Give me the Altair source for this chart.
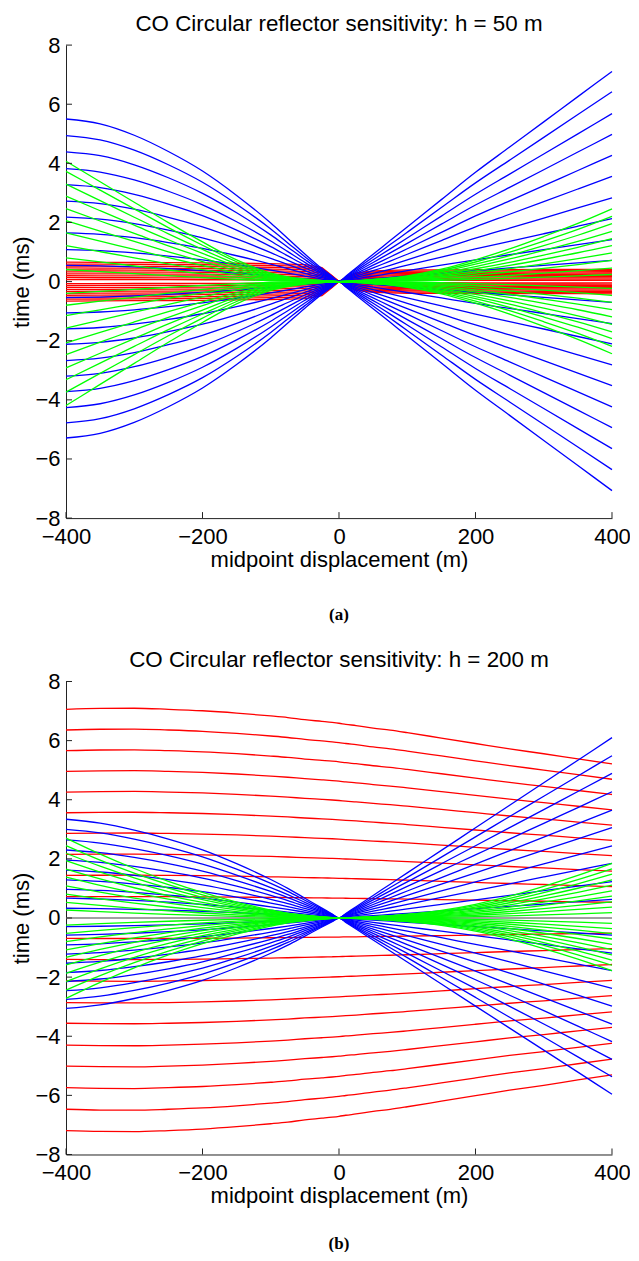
import altair as alt
import pandas as pd

# ---------------- shared x positions (m) ----------------
X_LEFT = [-400, -350, -300, -250, -200, -150, -100, -75, -50, -25, -10, 0]
X_RIGHT = [0, 10, 25, 50, 75, 100, 150, 200, 250, 300, 350, 400]
X_ALL = X_LEFT + X_RIGHT[1:]

# ---------------- panel (a): h = 50 m ----------------
A_BLUE_LEFT_AMP = [5.50, 4.94, 4.39, 3.82, 3.28, 2.72, 2.18, 1.65, 1.08, 0.55,
                   -0.54, -1.06, -1.60, -2.12, -2.67, -3.20, -3.72, -4.26, -4.78, -5.29]
A_BLUE_RIGHT_AMP = [7.11, 6.42, 5.68, 4.98, 4.27, 3.56, 2.83, 2.13, 1.42, 0.72,
                    -0.70, -1.42, -2.11, -2.82, -3.52, -4.24, -4.94, -5.65, -6.36, -7.07]
A_BLUE_LEFT_SHAPE = [1.0, 0.97, 0.9, 0.8, 0.68, 0.53, 0.36, 0.265, 0.17, 0.08, 0.032, 0.0]
A_BLUE_RIGHT_SHAPE = [0.0, 0.026, 0.065, 0.13, 0.195, 0.26, 0.39, 0.52, 0.64, 0.76, 0.88, 1.0]

A_GREEN_LEFT_AMP = [4.07, 3.73, 3.30, 2.89, 2.47, 2.06, 1.65, 1.22, 0.80, 0.41,
                    -0.40, -0.80, -1.15, -1.57, -2.07, -2.47, -2.92, -3.32, -3.74, -4.19]
A_GREEN_RIGHT_AMP = [2.46, 2.21, 1.96, 1.70, 1.45, 1.22, 0.97, 0.72, 0.46, 0.24,
                     -0.23, -0.47, -0.70, -0.95, -1.19, -1.45, -1.70, -1.93, -2.19, -2.44]
A_GREEN_LEFT_SHAPE = [1.0, 0.83, 0.66, 0.49, 0.33, 0.18, 0.07, 0.04, 0.02, 0.008, 0.003, 0.0]
A_GREEN_RIGHT_SHAPE = [0.0, 0.003, 0.01, 0.03, 0.05, 0.08, 0.17, 0.30, 0.45, 0.62, 0.80, 1.0]

A_RED_AMP = [0.66, 0.594, 0.528, 0.462, 0.396, 0.33, 0.264, 0.198, 0.132, 0.066,
             -0.066, -0.132, -0.198, -0.264, -0.33, -0.396, -0.462, -0.528, -0.594, -0.66]
A_RED_SHAPE = [1.0, 0.99, 0.98, 0.97, 0.96, 0.94, 0.92, 0.9, 0.87, 0.72, 0.3, 0.0,
               -0.22, -0.45, -0.55, -0.58, -0.6, -0.6, -0.61, -0.61, -0.62, -0.62, -0.63]

# ---------------- panel (b): h = 200 m ----------------
B_BLUE_LEFT_AMP = [3.34, 3.00, 2.64, 2.30, 1.96, 1.62, 1.29, 0.97, 0.67, 0.33,
                   -0.29, -0.58, -0.91, -1.22, -1.53, -1.85, -2.15, -2.46, -2.75, -3.06]
B_BLUE_RIGHT_AMP = [6.10, 5.49, 4.89, 4.27, 3.65, 3.06, 2.44, 1.85, 1.23, 0.63,
                    -0.58, -1.19, -1.78, -2.38, -2.98, -3.59, -4.18, -4.78, -5.37, -5.96]
B_BLUE_LEFT_SHAPE = [1.0, 0.96, 0.89, 0.8, 0.69, 0.55, 0.39, 0.3, 0.2, 0.1, 0.04, 0.0]
B_BLUE_RIGHT_SHAPE = [0.0, 0.025, 0.0625, 0.125, 0.1875, 0.25, 0.375, 0.5, 0.625, 0.75, 0.875, 1.0]

B_GREEN_LEFT_AMP = [2.70, 2.45, 2.19, 1.94, 1.65, 1.38, 1.09, 0.81, 0.53, 0.27,
                    -0.24, -0.52, -0.80, -1.08, -1.33, -1.59, -1.87, -2.15, -2.44, -2.72]
B_GREEN_RIGHT_AMP = [1.85, 1.66, 1.48, 1.29, 1.11, 0.92, 0.74, 0.55, 0.37, 0.18,
                     -0.18, -0.36, -0.53, -0.71, -0.89, -1.07, -1.25, -1.43, -1.60, -1.78]
B_GREEN_LEFT_SHAPE = [1.0, 0.8, 0.62, 0.46, 0.32, 0.2, 0.1, 0.06, 0.035, 0.015, 0.005, 0.0]
B_GREEN_RIGHT_SHAPE = [0.0, 0.004, 0.01, 0.025, 0.045, 0.07, 0.14, 0.25, 0.4, 0.58, 0.78, 1.0]

B_RED_AMP = [7.06, 6.36, 5.66, 4.96, 4.26, 3.56, 2.86, 2.15, 1.44, 0.72,
             -0.69, -1.40, -2.13, -2.86, -3.56, -4.30, -5.01, -5.74, -6.47, -7.19]
B_RED_SHAPE = [1.0, 1.004, 1.005, 1.0, 0.993, 0.982, 0.968, 0.96, 0.95, 0.942, 0.937, 0.933,
               0.928, 0.922, 0.91, 0.9, 0.888, 0.862, 0.836, 0.81, 0.787, 0.762, 0.738]

TICKS_X = [-400, -200, 0, 200, 400]
TICKS_Y = [-8, -6, -4, -2, 0, 2, 4, 6, 8]

COLORS = {"red": "#ff0000", "blue": "#0000ff", "green": "#00ff00", "gray": "#808080"}


def split_family(name, left_amp, right_amp, left_shape, right_shape):
    rows = []
    for k, (al, ar) in enumerate(zip(left_amp, right_amp)):
        for x, s in zip(X_LEFT, left_shape):
            rows.append({"fam": name, "curve": f"{name}{k}", "x": x, "y": al * s})
        for x, s in zip(X_RIGHT[1:], right_shape[1:]):
            rows.append({"fam": name, "curve": f"{name}{k}", "x": x, "y": ar * s})
    return rows


def single_family(name, amp, shape):
    rows = []
    for k, a in enumerate(amp):
        for x, s in zip(X_ALL, shape):
            rows.append({"fam": name, "curve": f"{name}{k}", "x": x, "y": a * s})
    return rows


rows_a = (single_family("red", A_RED_AMP, A_RED_SHAPE)
          + split_family("blue", A_BLUE_LEFT_AMP, A_BLUE_RIGHT_AMP, A_BLUE_LEFT_SHAPE, A_BLUE_RIGHT_SHAPE)
          + split_family("green", A_GREEN_LEFT_AMP, A_GREEN_RIGHT_AMP, A_GREEN_LEFT_SHAPE, A_GREEN_RIGHT_SHAPE))
rows_b = (single_family("red", B_RED_AMP, B_RED_SHAPE)
          + split_family("blue", B_BLUE_LEFT_AMP, B_BLUE_RIGHT_AMP, B_BLUE_LEFT_SHAPE, B_BLUE_RIGHT_SHAPE)
          + single_family("gray", [0.0], [1.0] * len(X_ALL))
          + split_family("green", B_GREEN_LEFT_AMP, B_GREEN_RIGHT_AMP, B_GREEN_LEFT_SHAPE, B_GREEN_RIGHT_SHAPE))

df_a = pd.DataFrame(rows_a)
df_b = pd.DataFrame(rows_b)

W, H = 546, 473
FONT = "Liberation Sans, Arial, Helvetica, sans-serif"
AXIS_COLOR = "#222222"

X_AXIS = alt.Axis(values=TICKS_X, title="midpoint displacement (m)", grid=False,
                  ticks=False, labelPadding=8, titlePadding=2,
                  domainColor=AXIS_COLOR, labelFontSize=22, titleFontSize=22,
                  labelFont=FONT, titleFont=FONT, titleFontWeight="normal",
                  labelColor="black", titleColor="black", labelFlush=False)
Y_AXIS = alt.Axis(values=TICKS_Y, title="time (ms)", grid=False,
                  ticks=False, labelPadding=6, titlePadding=1,
                  domainColor=AXIS_COLOR, labelFontSize=22, titleFontSize=22,
                  labelFont=FONT, titleFont=FONT, titleFontWeight="normal",
                  labelColor="black", titleColor="black", labelFlush=False)
X_SCALE = alt.Scale(domain=[-400, 400], nice=False, zero=False)
Y_SCALE = alt.Scale(domain=[-8, 8], nice=False, zero=False)


def panel(df, title, label, label_y, families, interp):
    layers = []
    for fam in families:
        layers.append(
            alt.Chart(df).transform_filter(alt.datum.fam == fam)
            .mark_line(color=COLORS[fam], strokeWidth=1.3, interpolate=interp.get(fam, "monotone"))
            .encode(x=alt.X("x:Q", scale=X_SCALE, axis=X_AXIS),
                    y=alt.Y("y:Q", scale=Y_SCALE, axis=Y_AXIS),
                    detail="curve:N", order="x:Q")
        )
    xt = pd.DataFrame({"x": TICKS_X})
    yt = pd.DataFrame({"y": TICKS_Y})
    layers.append(alt.Chart(xt).mark_rule(color=AXIS_COLOR, strokeWidth=1).encode(
        x=alt.X("x:Q", scale=X_SCALE, axis=X_AXIS), y=alt.value(H), y2=alt.value(H - 6)))
    layers.append(alt.Chart(yt).mark_rule(color=AXIS_COLOR, strokeWidth=1).encode(
        y=alt.Y("y:Q", scale=Y_SCALE, axis=Y_AXIS), x=alt.value(0), x2=alt.value(6)))
    lab = pd.DataFrame({"lab": [label]})
    layers.append(alt.Chart(lab).mark_text(font="Liberation Serif, Times New Roman, serif",
                                           fontWeight="bold", fontSize=17, color="black",
                                           baseline="middle", align="center").encode(
        text="lab:N", x=alt.value(W / 2), y=alt.value(label_y)))
    return alt.layer(*layers).properties(
        width=W, height=H,
        title=alt.Title(title, fontSize=22.4, font=FONT, fontWeight="normal", color="black",
                        anchor="middle", offset=-1.3))


pa = panel(df_a, "CO Circular reflector sensitivity: h = 50 m", "(a)", 570,
           ["red", "blue", "green"], {"red": "linear"})
pb = panel(df_b, "CO Circular reflector sensitivity: h = 200 m", "(b)", 563,
           ["red", "blue", "gray", "green"], {})

chart = alt.vconcat(pa, pb, spacing=25.4).properties(
    padding={"left": 2, "top": 4.1, "right": -1, "bottom": -1}
).configure_view(stroke=None)

chart.save("out.html", embed_options={"renderer": "svg", "actions": False})
